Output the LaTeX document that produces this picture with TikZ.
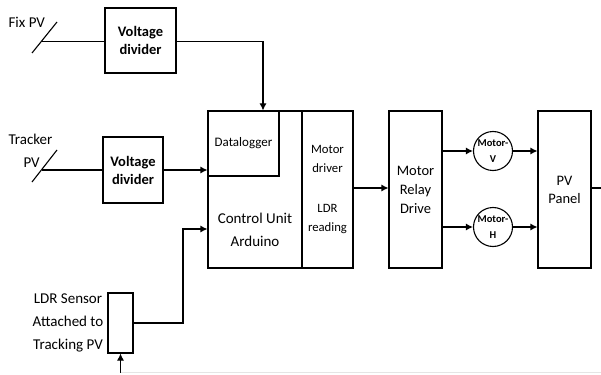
\documentclass[tikz,border=0pt]{standalone}
\usepackage{fontspec}
\setmainfont{Carlito}
\usetikzlibrary{arrows.meta}

\begin{document}
\begin{tikzpicture}[x=1pt,y=-1pt,line width=1.1pt,
  font=\fontsize{15}{23}\selectfont,
  box/.style={draw,inner sep=0pt,align=center},
  motor/.style={draw,circle,inner sep=0pt,minimum size=39pt,align=center,
    font=\bfseries\fontsize{10.5}{16}\selectfont},
  lbl/.style={inner sep=0pt,align=center},
  wire/.style={-{Latex[length=7pt,width=7pt]}}]
\path[use as bounding box] (0,0) rectangle (601,374);
% dividers
\node[box,minimum width=71pt,minimum height=65pt,font=\bfseries\fontsize{14.5}{18}\selectfont] (vdfix) at (140.5,40.5) {Voltage\\divider};
\node[box,minimum width=60pt,minimum height=66pt,font=\bfseries\fontsize{14.5}{18}\selectfont] (vdtrk) at (133,170) {Voltage\\divider};
% control unit
\node[box,minimum width=145pt,minimum height=157pt] (ctrl) at (280.5,189.5) {};
\node[box,minimum width=71pt,minimum height=65pt,font=\fontsize{13}{16}\selectfont] (logger) at (243.5,143.5) {Datalogger};
\node[box,minimum width=51pt,minimum height=157pt] (drv) at (327.5,189.5) {};
\node[lbl] (cutext) at (255,230) {Control Unit\\Arduino};
\node[lbl,font=\fontsize{12.7}{19}\selectfont] (drvtext) at (327.5,190) {Motor\\driver\\[21pt]LDR\\reading};
% drive side
\node[box,minimum width=53pt,minimum height=157pt,font=\fontsize{14.5}{19}\selectfont] (relay) at (415.5,189.5) {Motor\\Relay\\Drive};
\node[motor] (motv) at (493,151) {Motor-\\V};
\node[motor] (moth) at (493,227) {Motor-\\H};
\node[box,minimum width=53pt,minimum height=157pt,font=\fontsize{14.5}{18}\selectfont] (panel) at (564.5,189.5) {PV\\Panel};
% sensor
\node[box,minimum width=25pt,minimum height=60pt] (ldr) at (120.5,323) {};
\node[lbl] (ldrtext) at (68,323) {LDR Sensor\\Attached to\\Tracking PV};
% inputs
\node[anchor=west,inner sep=0pt] (fixpv) at (8,22) {Fix PV};
\node[anchor=west,inner sep=0pt] (trk) at (8,139) {Tracker};
\node[anchor=west,inner sep=0pt] (trkpv) at (23,163) {PV};
\coordinate (fixin) at (42,41.5);
\coordinate (trkin) at (42,170);
\draw (32,53) -- (57,22);
\draw (32,182) -- (57,150);
\draw (fixin) -- (fixin -| vdfix.west);
\draw (trkin) -- (trkin -| vdtrk.west);
% connectors
\coordinate (bend) at (263,41.5);
\draw[wire] (vdfix.east |- bend) -- (bend) -- (bend |- logger.north);
\draw[wire] (vdtrk.east) -- (vdtrk.east -| ctrl.west);
\coordinate (ldrup) at (183,229);
\draw[wire] (ldr.east) -| (ldrup) -- (ldrup -| ctrl.west);
\draw[wire] (drv.east |- 0,188) -- (relay.west |- 0,188);
\draw[wire] (relay.east |- motv.west) -- (motv.west);
\draw[wire] (relay.east |- moth.west) -- (moth.west);
\draw[wire] (motv.east) -- (motv.east -| panel.west);
\draw[wire] (moth.east) -- (moth.east -| panel.west);
\coordinate (out) at (601,188);
\draw (panel.east |- out) -- (out);
\coordinate (back) at (120.5,372.5);
\draw[wire] (back) -- (ldr.south);
\draw[gray!20,line width=1pt] (back) -- (601,372.5);
\end{tikzpicture}
\end{document}
